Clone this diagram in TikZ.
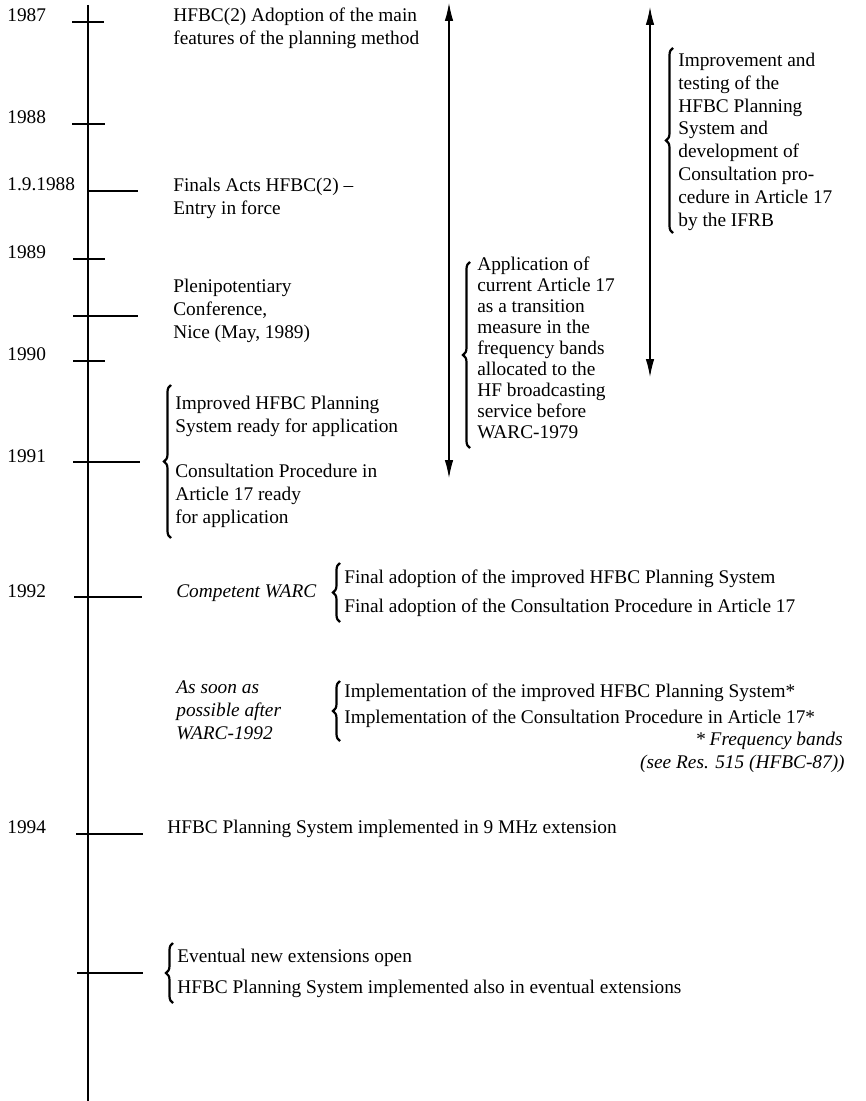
\documentclass[tikz,border=0pt]{standalone}
\usepackage{fontspec}
\setmainfont{Liberation Serif}
\usetikzlibrary{arrows.meta, decorations.pathreplacing}

\tikzset{
  txt/.style={inner sep=0pt, align=left, font=\fontsize{11}{13}\selectfont},
  yr/.style={txt, anchor=base west},
  blk/.style={txt, anchor=north west},
  brc/.style={decorate, decoration={brace, amplitude=4pt}, line width=1.25pt},
  period/.style={{Latex[length=3.6mm,width=1.7mm]}-{Latex[length=3.6mm,width=1.7mm]}, line width=0.6pt},
  yeartick/.style={line width=0.6pt}
}

\begin{document}
\begin{tikzpicture}[x=0.02cm, y=-0.02cm]
        \useasboundingbox (0,0) rectangle (865,1101);
        % Time axis
        \coordinate (axtop) at (88,5);
        \coordinate (axbot) at (88,1101);
        \draw[line width=0.8pt] (axtop) -- (axbot);
        \foreach \a/\b/\y in {72/104/22, 72/105/124, 88/138/191, 73/105/259, 73/138/316,
                              73/105/361, 73/140/462, 74/142/597, 76/143/834, 77/143/973}
          \draw[yeartick] (\a,\y) -- (\b,\y);
        % Years
        \foreach \nm/\y/\t in {y87/22/1987, y88/124/1988, sep88/191/1.9.1988, y89/259/1989,
                               y90/360/1990, y91/462/1991, y92/597/1992, y94/833/1994}
          \node[yr] (\nm) at (7,\y) {\t};
        % Events up to 1991
        \node[blk] (adopt) at (173,5) {\strut HFBC(2) Adoption of the main\\features of the planning method};
        \node[blk] (acts) at (173,175) {\strut Finals Acts HFBC(2) --\\Entry in force};
        \node[blk] (pleni) at (173,276) {\strut Plenipotentiary\\Conference,\\Nice (May, 1989)};
        \draw[brc] (171,538) -- (171,385);
        \node[blk] (ready1) at (175,393) {\strut Improved HFBC Planning\\System ready for application};
        \node[blk] (ready2) at (175,461) {\strut Consultation Procedure in\\Article 17 ready\\for application};
        % Transition periods
        \coordinate (trtop) at (449,3);
        \coordinate (trbot) at (449,478);
        \draw[period] (trtop) -- (trbot);
        \draw[brc] (470,448) -- (470,262);
        \node[blk, font=\fontsize{11}{12}\selectfont] (transit) at (477,255) {\strut Application of\\current Article 17\\as a transition\\measure in the\\frequency bands\\allocated to the\\HF broadcasting\\service before\\WARC-1979};
        \coordinate (ifrbtop) at (650,7);
        \coordinate (ifrbbot) at (650,377);
        \draw[period] (ifrbtop) -- (ifrbbot);
        \draw[brc] (673,233) -- (673,48);
        \node[blk] (ifrb) at (678,50) {\strut Improvement and\\testing of the\\HFBC Planning\\System and\\development of\\Consultation pro-\\cedure in Article 17\\by the IFRB};
        % 1992 conference
        \node[yr, font=\fontsize{11}{13}\selectfont\itshape] (warc) at (176,597) {Competent WARC};
        \draw[brc] (340,622) -- (340,563);
        \node[yr] (fin1) at (344,583) {Final adoption of the improved HFBC Planning System};
        \node[yr] (fin2) at (344,612) {Final adoption of the Consultation Procedure in Article 17};
        \node[blk, font=\fontsize{11}{13}\selectfont\itshape] (asap) at (176,677) {\strut As soon as\\possible after\\WARC-1992};
        \draw[brc] (340,741) -- (340,681);
        \node[yr] (impl1) at (344,697) {Implementation of the improved HFBC Planning System*};
        \node[yr] (impl2) at (344,723) {Implementation of the Consultation Procedure in Article 17*};
        \node[txt, anchor=base east, font=\fontsize{11}{13}\selectfont\itshape] (note1) at (843,745) {* Frequency bands};
        \node[txt, anchor=base east, font=\fontsize{11}{13}\selectfont\itshape] (note2) at (845,768) {(see Res. 515 (HFBC-87))};
        % Extensions
        \node[yr] (mhz) at (167,833) {HFBC Planning System implemented in 9 MHz extension};
        \draw[brc] (173,1003) -- (173,943);
        \node[yr] (ext1) at (177,962) {Eventual new extensions open};
        \node[yr] (ext2) at (177,993) {HFBC Planning System implemented also in eventual extensions};
\end{tikzpicture}
\end{document}
